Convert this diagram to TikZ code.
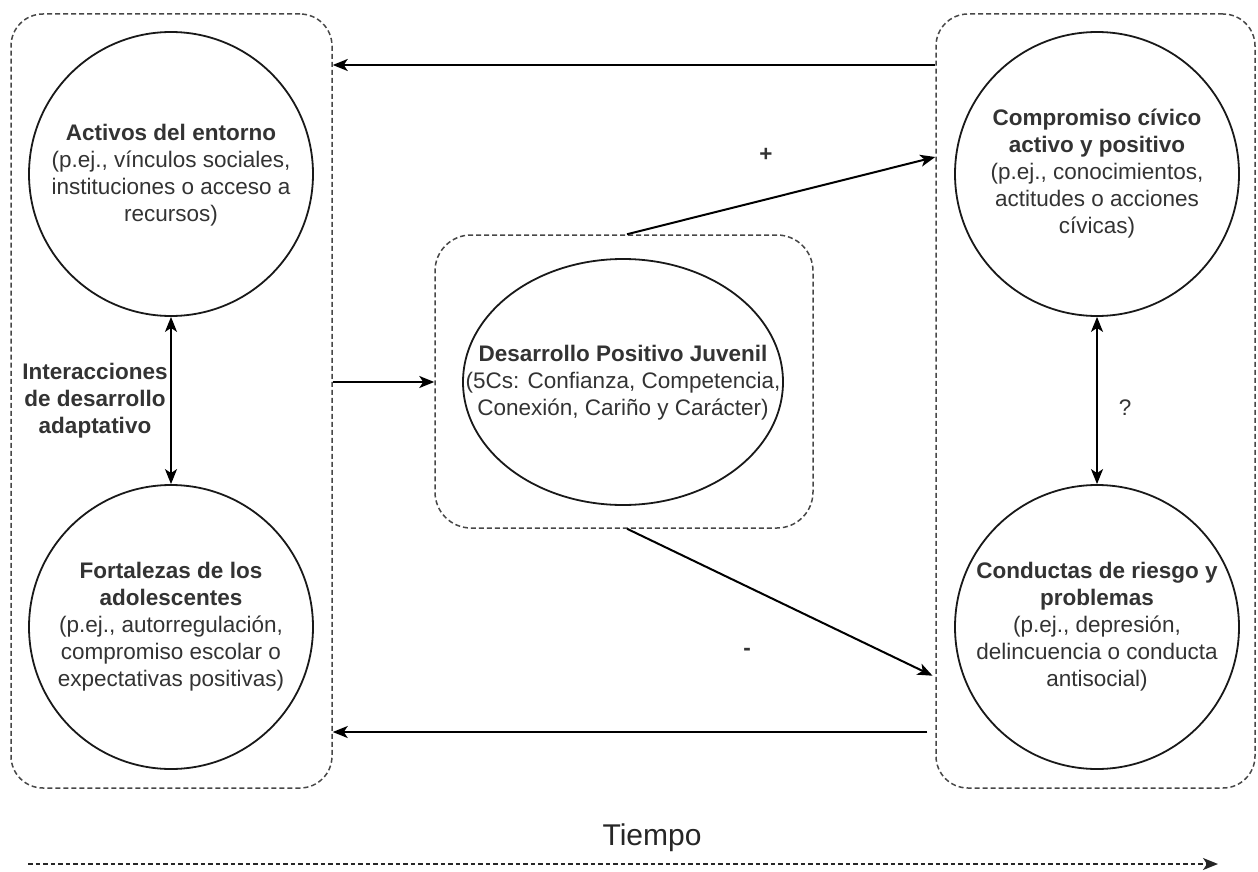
\documentclass[tikz,border=0pt]{standalone}
\usepackage{fontspec}
\setmainfont{Liberation Sans}
\usetikzlibrary{shapes.geometric,arrows.meta}
\begin{document}
\begin{tikzpicture}[x=1pt,y=-1pt,
  txt/.style={text=black!80, font=\fontsize{22.5}{27}\selectfont, align=center, inner sep=0pt},
  circ/.style={circle, draw=black!90, line width=1.8pt, minimum size=284pt, inner sep=0pt},
  grp/.style={draw=black!72, dash pattern=on 5pt off 3pt, line width=1.5pt, rounded corners=32pt, inner sep=0pt},
  tip/.tip={Stealth[length=15pt,width=12pt,inset=4pt]},
  arr/.style={draw=black, line width=2pt, -tip},
  darr/.style={draw=black, line width=2pt, tip-tip},
  tarr/.style={draw=black!85, line width=1.8pt, dash pattern=on 4.5pt off 3pt, -tip},
]
\fill[white] (0,0) rectangle (1258,872);
\useasboundingbox (0,0) rectangle (1258,872);

% containers
\node[grp, minimum width=321pt, minimum height=774pt] (L) at (171.5,401) {};
\node[grp, minimum width=378pt, minimum height=293pt, rounded corners=36pt] (C) at (624,381.5) {};
\node[grp, minimum width=319pt, minimum height=774pt] (R) at (1095.5,401) {};

% circles and ellipse
\node[circ] (A1) at (171,174) {};
\node[circ] (A2) at (171,627) {};
\node[circ] (R1) at (1097,174) {};
\node[circ] (R2) at (1097,627) {};
\node[ellipse, draw=black!90, line width=1.8pt, minimum width=320pt, minimum height=246pt, inner sep=0pt] (E) at (623,382) {};

% texts
\node[txt] (A1t) at (171,175) {\textbf{Activos del entorno}\\(p.ej., vínculos sociales,\\instituciones o acceso a\\recursos)};
\node[txt] (A2t) at (171,627) {\textbf{Fortalezas de los}\\\textbf{adolescentes}\\(p.ej., autorregulación,\\compromiso escolar o\\expectativas positivas)};
\node[txt] (R1t) at (1097,174) {\textbf{Compromiso cívico}\\\textbf{activo y positivo}\\(p.ej., conocimientos,\\actitudes o acciones\\cívicas)};
\node[txt] (R2t) at (1097,627) {\textbf{Conductas de riesgo y}\\\textbf{problemas}\\(p.ej., depresión,\\delincuencia o conducta\\antisocial)};
\node[txt] (Et) at (623,383) {\textbf{Desarrollo Positivo Juvenil}\\(5Cs: Confianza, Competencia,\\Conexión, Cariño y Carácter)};
\node[txt, font=\bfseries\fontsize{22.5}{27}\selectfont] (lab) at (95,401) {Interacciones\\de desarrollo\\adaptativo};
\node[txt, font=\bfseries\fontsize{22.5}{27}\selectfont, anchor=base] (plus) at (766,161) {+};
\node[txt, font=\bfseries\fontsize{22.5}{27}\selectfont, anchor=base] (minus) at (747,655) {-};
\node[txt] (q) at (1125,408) {?};
\node[text=black!85, font=\fontsize{30}{36}\selectfont, anchor=base, inner sep=0pt] (tm) at (652,845) {Tiempo};

% helper coordinates
\coordinate (ty) at (0,65);
\coordinate (by) at (0,732);
\coordinate (my) at (0,382);
\coordinate (uy) at (0,157);
\coordinate (ly) at (0,677);
\coordinate (t1) at (28,864);
\coordinate (t2) at (1218,864);

% connectors
\draw[arr] (R.west|-ty) -- (L.east|-ty);
\draw[arr, shorten <=8pt] (R.west|-by) -- (L.east|-by);
\draw[arr] (L.east|-my) -- (C.west|-my);
\draw[arr] ([xshift=3pt]C.north) -- (R.west|-uy);
\draw[arr, shorten >=3pt] ([xshift=3pt]C.south) -- (R.west|-ly);
\draw[darr] (A1.south) -- (A2.north);
\draw[darr] (R1.south) -- (R2.north);
\draw[tarr] (t1) -- (t2);
\end{tikzpicture}
\end{document}
